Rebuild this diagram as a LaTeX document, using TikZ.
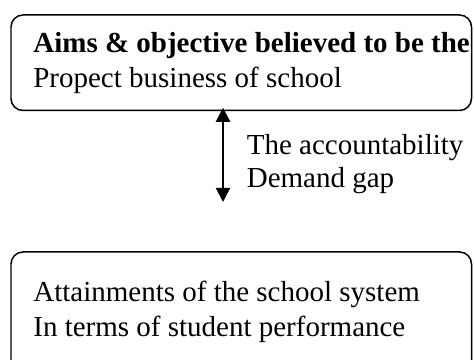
\documentclass[tikz,border=0pt]{standalone}
\usepackage{fontspec}
\setmainfont{Liberation Serif}
\usetikzlibrary{arrows.meta}

\tikzset{
  bx/.style={draw, rounded corners=0.24cm, line width=0.85pt, inner sep=0pt},
  txt/.style={anchor=base west, inner sep=0pt, align=left,
    font=\fontsize{16.5}{19.9}\selectfont},
}

\begin{document}
\begin{tikzpicture}
\clip (0,0) rectangle (9.48,7.2);

% text of the two boxes
\node[txt] (aimstxt) at (0.66,6.14) {\textbf{Aims \& objective believed to be the}};
\node[txt] (aimstxtb) at (0.66,5.44) {Propect business of school};
\node[txt] (atttxt) at (0.66,1.17) {Attainments of the school system};
\node[txt] (atttxtb) at (0.66,0.47) {In terms of student performance};

% the boxes
\node[bx, minimum width=9.21cm, minimum height=1.91cm] (aims) at (4.825,5.945) {};
\node[bx, minimum width=9.21cm, minimum height=2.4cm] (attain) at (4.825,0.96) {};

% the gap between them
\coordinate (gap) at (4.46,3.16);
\draw[line width=1.1pt, {Triangle[length=8pt,width=8pt]}-{Triangle[length=8pt,width=8pt]}]
  ([yshift=2pt]aims.south -| gap) -- (gap);
\node[txt] (gaptxt) at (4.93,4.10) {The accountability};
\node[txt] (gaptxtb) at (4.93,3.44) {Demand gap};
\end{tikzpicture}
\end{document}
